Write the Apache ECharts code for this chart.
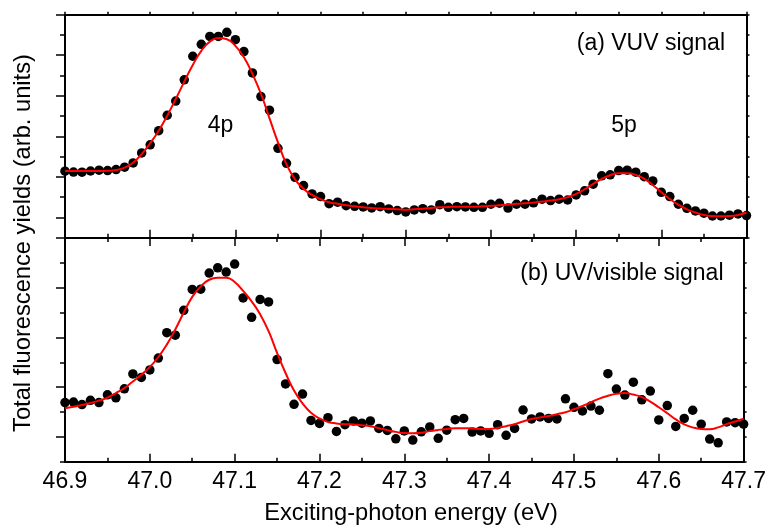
<!DOCTYPE html>
<html>
<head>
<meta charset="utf-8">
<script src="https://cdn.jsdelivr.net/npm/echarts/dist/echarts.min.js"></script>
<style>
  html, body { margin: 0; padding: 0; background: #fff; }
  #chart { width: 769px; height: 527px; }
</style>
</head>
<body>
<div id="chart"></div>
<script>
// Exciting-photon energy grid (eV), one point every 10 meV
const energy = [
  46.90, 46.91, 46.92, 46.93, 46.94, 46.95, 46.96, 46.97, 46.98, 46.99,
  47.00, 47.01, 47.02, 47.03, 47.04, 47.05, 47.06, 47.07, 47.08, 47.09,
  47.10, 47.11, 47.12, 47.13, 47.14, 47.15, 47.16, 47.17, 47.18, 47.19,
  47.20, 47.21, 47.22, 47.23, 47.24, 47.25, 47.26, 47.27, 47.28, 47.29,
  47.30, 47.31, 47.32, 47.33, 47.34, 47.35, 47.36, 47.37, 47.38, 47.39,
  47.40, 47.41, 47.42, 47.43, 47.44, 47.45, 47.46, 47.47, 47.48, 47.49,
  47.50, 47.51, 47.52, 47.53, 47.54, 47.55, 47.56, 47.57, 47.58, 47.59,
  47.60, 47.61, 47.62, 47.63, 47.64, 47.65, 47.66, 47.67, 47.68, 47.69,
  47.70
];

// (a) VUV fluorescence yield, measured points (arb. units)
const vuvSignal = [
  2.28, 2.24, 2.23, 2.29, 2.33, 2.31, 2.36, 2.48, 2.69, 3.18,
  3.58, 4.28, 5.04, 5.74, 6.79, 7.95, 8.54, 8.93, 8.93, 9.13,
  8.77, 8.18, 7.13, 5.96, 5.29, 3.41, 2.67, 1.98, 1.57, 1.16,
  1.03, 0.68, 0.75, 0.58, 0.55, 0.52, 0.47, 0.53, 0.42, 0.34,
  0.27, 0.37, 0.43, 0.37, 0.63, 0.50, 0.53, 0.52, 0.50, 0.50,
  0.65, 0.70, 0.46, 0.65, 0.65, 0.72, 0.90, 0.83, 0.90, 0.86,
  1.11, 1.31, 1.64, 2.05, 2.10, 2.31, 2.33, 2.23, 2.01, 1.80,
  1.24, 1.03, 0.65, 0.45, 0.32, 0.21, 0.07, 0.07, 0.11, 0.17,
  0.09
];

// (a) fitted curve
const vuvFit = [
  2.29, 2.29, 2.29, 2.29, 2.29, 2.30, 2.34, 2.46, 2.70, 3.12,
  3.66, 4.28, 5.02, 5.84, 6.70, 7.52, 8.22, 8.67, 8.85, 8.79,
  8.46, 7.90, 7.08, 6.10, 4.90, 3.70, 2.62, 1.88, 1.42, 1.11,
  0.90, 0.75, 0.67, 0.60, 0.55, 0.50, 0.47, 0.44, 0.42, 0.40,
  0.38, 0.40, 0.43, 0.47, 0.50, 0.52, 0.53, 0.53, 0.53, 0.55,
  0.57, 0.60, 0.63, 0.67, 0.70, 0.73, 0.78, 0.83, 0.90, 1.00,
  1.16, 1.39, 1.65, 1.90, 2.08, 2.18, 2.18, 2.10, 1.90, 1.60,
  1.24, 0.91, 0.63, 0.40, 0.24, 0.12, 0.07, 0.06, 0.07, 0.12,
  0.24
];

// (b) UV/visible fluorescence yield, measured points (arb. units)
const uvVisSignal = [
  1.38, 1.40, 1.30, 1.47, 1.38, 1.69, 1.57, 1.93, 2.53, 2.39,
  2.69, 3.17, 4.19, 4.09, 5.09, 5.93, 5.94, 6.59, 6.80, 6.63,
  6.95, 5.59, 4.81, 5.53, 5.43, 3.11, 2.13, 1.31, 1.72, 0.66,
  0.54, 0.77, 0.22, 0.49, 0.64, 0.55, 0.64, 0.34, 0.26, -0.08,
  0.24, -0.13, 0.20, 0.40, -0.06, 0.27, 0.69, 0.74, 0.19, 0.24,
  0.14, 0.49, 0.06, 0.34, 1.08, 0.72, 0.80, 0.74, 0.72, 1.53,
  1.19, 1.04, 1.24, 1.07, 2.54, 1.92, 1.68, 2.20, 1.49, 1.84,
  0.68, 1.26, 0.42, 0.74, 1.07, 0.51, -0.09, -0.24, 0.60, 0.57,
  0.51
];

// (b) fitted curve
const uvVisFit = [
  1.15, 1.21, 1.28, 1.36, 1.46, 1.58, 1.76, 1.96, 2.23, 2.50,
  2.81, 3.21, 3.71, 4.32, 5.00, 5.63, 6.05, 6.32, 6.40, 6.40,
  6.23, 5.87, 5.45, 4.93, 4.25, 3.38, 2.57, 1.86, 1.35, 0.97,
  0.74, 0.60, 0.54, 0.51, 0.50, 0.47, 0.43, 0.35, 0.27, 0.20,
  0.15, 0.14, 0.16, 0.23, 0.28, 0.32, 0.35, 0.35, 0.34, 0.32,
  0.32, 0.36, 0.43, 0.51, 0.62, 0.72, 0.78, 0.84, 0.91, 0.99,
  1.11, 1.24, 1.39, 1.54, 1.65, 1.73, 1.76, 1.70, 1.60, 1.42,
  1.19, 0.95, 0.70, 0.50, 0.38, 0.32, 0.31, 0.38, 0.51, 0.62,
  0.73
];

// Axis ranges and tick settings
const xRange = { min: 46.9, max: 47.7, step: 0.1 };
const vuvRange = { min: -1, max: 10, majors: [0, 2, 4, 6, 8, 10] };
const uvVisRange = { min: -1, max: 8, majors: [0, 2, 4, 6, 8] };

const FONT = '"Liberation Sans", Arial, Helvetica, sans-serif';
const INK = '#000';

function xAxis(gridIndex, position, inside, majorLen, minorLen, withLabels) {
  return {
    type: 'value',
    gridIndex: gridIndex,
    position: position,
    min: xRange.min,
    max: xRange.max,
    interval: xRange.step,
    axisLine: { show: true, onZero: false, lineStyle: { color: INK, width: 2 } },
    axisTick: { show: true, inside: inside, length: majorLen, lineStyle: { color: INK, width: 1.5 } },
    minorTick: { show: true, splitNumber: 2, length: minorLen, lineStyle: { color: INK, width: 1.5 } },
    axisLabel: {
      show: withLabels,
      margin: 8,
      color: INK,
      fontSize: 23,
      fontFamily: FONT,
      formatter: function (v) { return v.toFixed(1); }
    },
    splitLine: { show: false },
    minorSplitLine: { show: false }
  };
}

function yAxes(gridIndex, range) {
  const base = {
    type: 'value',
    gridIndex: gridIndex,
    min: range.min,
    max: range.max,
    axisLabel: { show: false },
    splitLine: { show: false }
  };
  return [
    // left edge: long outward ticks
    Object.assign({}, base, {
      position: 'left',
      interval: 2,
      axisLine: { show: true, onZero: false, lineStyle: { color: INK, width: 2 } },
      axisTick: { show: true, length: 9, customValues: range.majors, lineStyle: { color: INK, width: 1.5 } }
    }),
    // left edge: short ticks on every unit
    Object.assign({}, base, {
      position: 'left',
      interval: 1,
      axisLine: { show: false, onZero: false },
      axisTick: { show: true, length: 5, lineStyle: { color: INK, width: 1.5 } }
    }),
    // right edge: short outward ticks
    Object.assign({}, base, {
      position: 'right',
      interval: 1,
      axisLine: { show: true, onZero: false, lineStyle: { color: INK, width: 2 } },
      axisTick: { show: true, length: 3, lineStyle: { color: INK, width: 1.5 } }
    })
  ];
}

function pairs(values) {
  return energy.map(function (e, i) { return [e, values[i]]; });
}

function label(text, x, y, align, size, rotation) {
  return {
    type: 'text',
    x: x,
    y: y,
    rotation: rotation || 0,
    silent: true,
    style: {
      text: text,
      fill: INK,
      fontSize: size,
      fontFamily: FONT,
      align: align,
      verticalAlign: 'middle'
    }
  };
}

const chart = echarts.init(document.getElementById('chart'), null, { renderer: 'canvas' });

chart.setOption({
  animation: false,
  backgroundColor: '#fff',
  grid: [
    { left: 65, right: 22.5, top: 14.7, height: 223 },
    { left: 65, right: 22.5, top: 238, height: 223.7 }
  ],
  xAxis: [
    xAxis(0, 'bottom', true, 8, 4, false),
    xAxis(0, 'top', false, 3, 3, false),
    xAxis(1, 'top', true, 8, 4, false),
    xAxis(1, 'bottom', true, 8, 4, true)
  ],
  yAxis: yAxes(0, vuvRange).concat(yAxes(1, uvVisRange)),
  series: [
    {
      name: 'VUV signal',
      type: 'scatter',
      xAxisIndex: 0,
      yAxisIndex: 0,
      data: pairs(vuvSignal),
      symbol: 'circle',
      symbolSize: 9.5,
      itemStyle: { color: INK, opacity: 1 },
      z: 2
    },
    {
      name: 'VUV fit',
      type: 'line',
      xAxisIndex: 0,
      yAxisIndex: 0,
      data: pairs(vuvFit),
      smooth: true,
      showSymbol: false,
      lineStyle: { color: '#ff0000', width: 2 },
      z: 3
    },
    {
      name: 'UV/visible signal',
      type: 'scatter',
      xAxisIndex: 3,
      yAxisIndex: 3,
      data: pairs(uvVisSignal),
      symbol: 'circle',
      symbolSize: 9.5,
      itemStyle: { color: INK, opacity: 1 },
      z: 2
    },
    {
      name: 'UV/visible fit',
      type: 'line',
      xAxisIndex: 3,
      yAxisIndex: 3,
      data: pairs(uvVisFit),
      smooth: true,
      showSymbol: false,
      lineStyle: { color: '#ff0000', width: 2 },
      z: 3
    }
  ],
  graphic: [
    label('(a) VUV signal', 725, 43.5, 'right', 23),
    label('(b) UV/visible signal', 723.5, 273.5, 'right', 23),
    label('4p', 220.5, 126, 'center', 23),
    label('5p', 624, 126, 'center', 23),
    label('Exciting-photon energy (eV)', 411, 513, 'center', 23.7),
    label('Total fluorescence yields (arb. units)', 23.5, 243, 'center', 23.7, Math.PI / 2)
  ]
});
</script>
</body>
</html>
